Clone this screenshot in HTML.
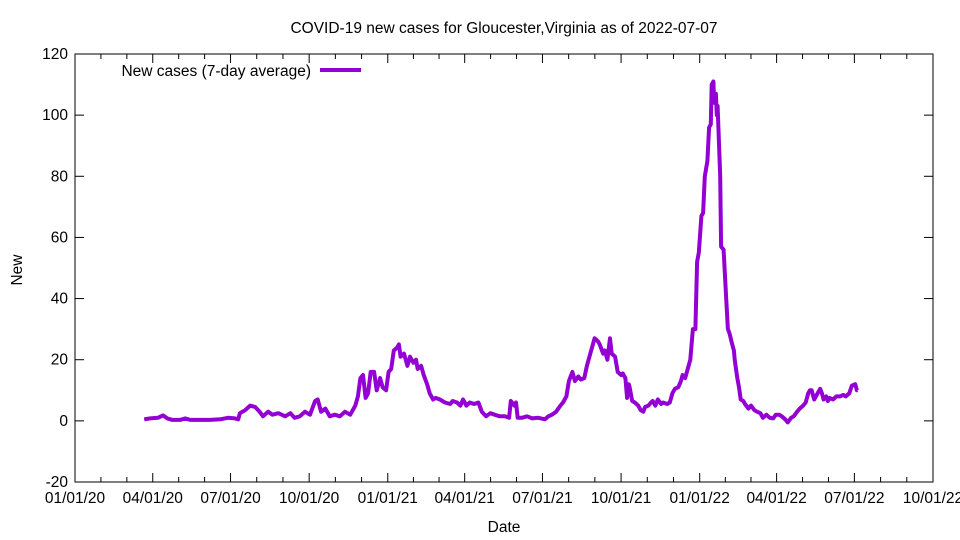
<!DOCTYPE html>
<html><head><meta charset="utf-8"><style>
body{margin:0;background:#fff}
svg{display:block;font-family:"Liberation Sans",sans-serif;font-size:15.5px}
</style></head><body>
<svg id="c" width="960" height="540">
<text x="504" y="33" text-anchor="middle">COVID-19 new cases for Gloucester,Virginia as of 2022-07-07</text>
<text x="22" y="270" text-anchor="middle" transform="rotate(-90 22 270)">New</text>
<text x="504" y="532" text-anchor="middle">Date</text>
<g id="axes"></g>
<rect x="75" y="54" width="858" height="428" fill="none" stroke="#000"/>
<path id="line" fill="none" stroke="#9400d3" stroke-width="4" stroke-linejoin="round"/>
<g>
<text x="311" y="76" text-anchor="end">New cases (7-day average)</text>
<line x1="320" y1="70" x2="361" y2="70" stroke="#9400d3" stroke-width="4"/>
</g>
</svg>
<script>
const days=[81,88,97,103,108,114,123,129,135,146,158,170,179,187,191,193,199,205,211,216,220,226,231,238,246,252,257,263,269,275,281,284,288,293,298,304,310,316,322,328,331,334,337,340,343,346,350,353,357,360,364,367,370,373,377,379,381,385,389,392,396,399,401,405,408,412,415,419,422,427,433,439,442,447,451,454,458,462,467,472,476,481,486,491,497,503,508,510,514,516,518,523,529,535,542,550,554,558,563,568,571,575,578,582,585,589,592,596,599,603,606,608,612,614,618,620,623,626,628,632,635,639,641,644,646,648,649,652,655,659,662,665,667,671,674,676,679,682,686,688,693,696,699,702,706,709,711,714,716,720,723,726,728,730,733,735,737,740,742,744,745,747,748,750,751,752,755,756,759,762,764,766,769,771,772,775,777,779,782,784,788,791,795,798,802,805,809,813,817,820,824,827,831,834,838,841,845,848,852,855,858,860,862,865,867,869,872,874,876,879,881,883,887,891,895,899,902,906,909,913,915,916];
const cases=[0.5,0.8,1,1.8,0.8,0.3,0.3,0.8,0.3,0.3,0.3,0.5,1,0.8,0.5,2.5,3.5,5,4.5,3,1.5,3,2,2.5,1.5,2.5,1,1.5,3,2,6.5,7,3,4,1.5,2,1.5,3,2,5,8,14,15,7.5,9,16,16,10,14,11,10,16,17,23,24,25,21,22,18,21,19,20,17,18,15,12,9,7,7.5,7,6,5.5,6.5,6,5,7,5,6,5.5,6,3,1.5,2.5,2,1.5,1.5,1,6.5,5,6,1,1,1.5,0.8,1,0.5,1.5,2,3,5,6,8,13,16,13,14.5,13.5,14,18,22,25,27,26,25,22,23,20,27,22,21,16,15,15.5,14,7.5,12,11,6.5,6,5,3.5,3,4.5,5,6,6.5,5,7,5.5,6,5.5,6,9,10.5,11,13,15,14,16,20,30,30,52,55,67,68,80,85,96,97,110,111,104,107,100,103,80,57,56,40,30,28.5,25,23,20,14,11,7,6.5,5.5,4,5,3.5,3,2.5,1,2,1,0.8,2,2,1.5,0.5,-0.5,1,1.5,3,4,5,6,9,10,10,7,8,9,10.5,9,7,8,6.5,7.5,7,8,8,8.5,8,9,11.5,12,10,10];
const yTicks=[-20,0,20,40,60,80,100,120];
const xTickDays=[0,91,182,274,366,456,547,639,731,821,912,1004];
const xTickLabels=["01/01/20","04/01/20","07/01/20","10/01/20","01/01/21","04/01/21","07/01/21","10/01/21","01/01/22","04/01/22","07/01/22","10/01/22"];
const X=d=>75+d*858/1004, Y=v=>482-(v+20)*428/140;
const NS="http://www.w3.org/2000/svg", ax=document.getElementById('axes');
function mk(t,a,txt){const e=document.createElementNS(NS,t);for(const k in a)e.setAttribute(k,a[k]);if(txt)e.textContent=txt;ax.appendChild(e);return e;}
yTicks.forEach(v=>{const y=Y(v);
const t=mk('line',{x1:75,x2:84,y1:y,y2:y,stroke:'#000'});


const t2=mk('line',{x1:924,x2:933,y1:y,y2:y,stroke:'#000'});


const l=mk('text',{x:68,y:y+5,'text-anchor':'end'},String(v));

});
xTickDays.forEach((d,i)=>{const x=X(d);
const t=mk('line',{x1:x,x2:x,y1:473,y2:482,stroke:'#000'});


const t2=mk('line',{x1:x,x2:x,y1:54,y2:63,stroke:'#000'});


if(i<xTickDays.length-1){for(let k=1;k<3;k++){const mx=X(d+(xTickDays[i+1]-d)*k/3);
const m=mk('line',{x1:mx,x2:mx,y1:477,y2:482,stroke:'#000'});


const m2=mk('line',{x1:mx,x2:mx,y1:54,y2:59,stroke:'#000'});

}}
const l=mk('text',{x:x,y:503,'text-anchor':'middle'},xTickLabels[i]);

});
document.getElementById('line').setAttribute('d',days.map((d,i)=>(i?'L':'M')+X(d).toFixed(1)+','+Y(cases[i]).toFixed(1)).join(''));
</script>
</body></html>
